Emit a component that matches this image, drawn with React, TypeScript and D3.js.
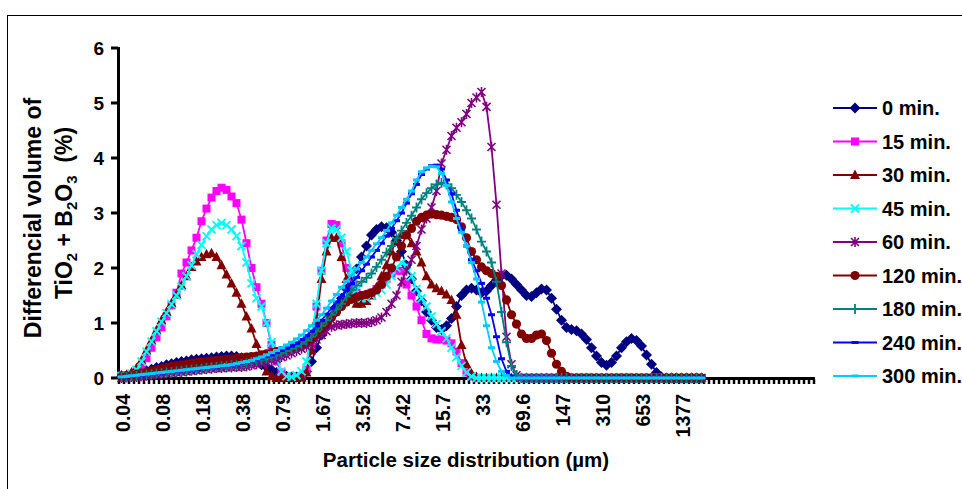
import React from "react";
import * as d3 from "d3";

// ---- data ----
const tickLabels = ["0.04","0.08","0.18","0.38","0.79","1.67","3.52","7.42","15.7","33","69.6","147","310","653","1377"];
const tickEvery = 8;
const categoryCount = 139;
const yTicks = [0, 1, 2, 3, 4, 5, 6];
const seriesNames = ["0 min.","15 min.","30 min.","45 min.","60 min.","120 min.","180 min.","240 min.","300 min."];

const min0 = [0.02,0.03,0.05,0.08,0.1,0.13,0.16,0.19,0.21,0.24,
0.26,0.28,0.3,0.31,0.33,0.34,0.35,0.36,0.37,0.38,
0.39,0.4,0.4,0.39,0.37,0.35,0.32,0.28,0.24,0.2,
0.15,0.1,0.06,0.03,0.02,0.02,0.05,0.12,0.3,0.55,
0.78,0.95,1.12,1.3,1.45,1.62,1.8,1.98,2.2,2.4,
2.6,2.7,2.75,2.73,2.65,2.5,2.3,2.05,1.8,1.58,
1.4,1.2,1.05,0.92,0.88,0.95,1.08,1.3,1.5,1.6,
1.63,1.6,1.55,1.58,1.68,1.78,1.86,1.87,1.8,1.7,
1.6,1.5,1.48,1.55,1.62,1.6,1.45,1.25,1.05,0.92,
0.88,0.86,0.8,0.7,0.55,0.4,0.28,0.23,0.28,0.4,
0.55,0.66,0.72,0.68,0.58,0.42,0.25,0.1,0.02,0,
0,0,0,0,0,0,0];

const min15 = [0.05,0.05,0.07,0.12,0.22,0.36,0.55,0.74,0.92,1.12,
1.32,1.55,1.9,2.1,2.32,2.55,2.85,3.08,3.28,3.4,
3.46,3.42,3.3,3.18,2.88,2.45,2.0,1.65,1.35,1.0,
0.6,0.3,0.1,0.02,0,0,0.02,0.15,0.6,1.3,
1.95,2.5,2.8,2.78,2.45,2.0,1.7,1.55,1.5,1.5,
1.55,1.62,1.7,1.8,1.9,1.95,1.95,1.7,1.5,1.3,
1.05,0.8,0.72,0.7,0.7,0.68,0.63,0.48,0.27,0.1,
0.03,0,0,0,0,0,0,0,0,0,
0,0,0,0,0,0,0,0,0,0,
0,0,0,0,0,0,0,0,0,0,
0,0,0,0,0,0,0,0,0,0,
0,0,0,0,0,0,0];

const min30 = [0.05,0.06,0.1,0.18,0.32,0.5,0.68,0.87,1.05,1.2,
1.36,1.52,1.68,1.85,2.02,2.12,2.2,2.25,2.27,2.2,
2.05,1.88,1.72,1.55,1.35,1.12,0.9,0.62,0.35,0.12,
0.03,0,0,0,0,0,0.01,0.1,0.5,1.05,
1.8,2.3,2.55,2.55,2.2,1.8,1.5,1.35,1.35,1.4,
1.5,1.65,1.85,2.05,2.3,2.5,2.6,2.6,2.45,2.3,
2.1,1.85,1.7,1.63,1.58,1.52,1.42,1.15,0.6,0.25,
0.08,0.02,0,0,0,0,0,0,0,0,
0,0,0,0,0,0,0,0,0,0,
0,0,0,0,0,0,0,0,0,0,
0,0,0,0,0,0,0,0,0,0,
0,0,0,0,0,0,0];

const min45 = [0.03,0.04,0.08,0.15,0.3,0.48,0.66,0.85,1.02,1.18,
1.34,1.5,1.66,1.85,2.05,2.25,2.42,2.58,2.7,2.78,
2.82,2.78,2.7,2.58,2.4,2.1,1.72,1.45,1.3,1.0,
0.65,0.38,0.12,0.03,0.02,0.05,0.12,0.3,0.75,1.35,
1.95,2.45,2.72,2.7,2.55,2.3,1.95,1.6,1.45,1.45,
1.5,1.55,1.6,1.7,1.85,2.0,2.1,2.05,1.85,1.62,
1.45,1.3,1.12,0.98,0.85,0.72,0.55,0.38,0.22,0.1,
0.03,0,0,0,0,0,0,0,0,0,
0,0,0,0,0,0,0,0,0,0,
0,0,0,0,0,0,0,0,0,0,
0,0,0,0,0,0,0,0,0,0,
0,0,0,0,0,0,0];

const min60 = [0,0.01,0.02,0.02,0.03,0.04,0.05,0.06,0.07,0.08,
0.09,0.1,0.11,0.12,0.13,0.14,0.15,0.16,0.17,0.18,
0.18,0.19,0.19,0.2,0.2,0.21,0.23,0.25,0.27,0.29,
0.32,0.35,0.38,0.41,0.45,0.49,0.53,0.57,0.62,0.7,
0.78,0.85,0.93,0.96,0.97,0.98,0.99,1.0,1.0,1.0,
1.02,1.05,1.1,1.2,1.35,1.5,1.75,1.95,2.15,2.4,
2.7,2.9,3.1,3.4,3.9,4.15,4.4,4.55,4.65,4.8,
5.0,5.1,5.2,4.93,4.2,3.15,1.9,0.75,0.25,0.05,
0,0,0,0,0,0,0,0,0,0,
0,0,0,0,0,0,0,0,0,0,
0,0,0,0,0,0,0,0,0,0,
0,0,0,0,0,0,0];

const min120 = [0.02,0.03,0.05,0.07,0.09,0.11,0.13,0.15,0.17,0.19,
0.21,0.22,0.24,0.25,0.27,0.28,0.29,0.3,0.31,0.32,
0.33,0.34,0.35,0.36,0.37,0.38,0.39,0.4,0.42,0.44,
0.46,0.48,0.5,0.52,0.55,0.58,0.62,0.67,0.72,0.8,
0.9,1.0,1.1,1.2,1.3,1.38,1.43,1.47,1.5,1.52,
1.55,1.6,1.7,1.85,2.0,2.2,2.4,2.6,2.72,2.85,
2.92,2.96,2.98,2.97,2.96,2.94,2.92,2.88,2.75,2.55,
2.3,2.15,2.02,1.95,1.9,1.85,1.68,1.42,1.15,0.98,
0.8,0.72,0.72,0.78,0.8,0.68,0.45,0.25,0.12,0.03,
0,0,0,0,0,0,0,0,0,0,
0,0,0,0,0,0,0,0,0,0,
0,0,0,0,0,0,0];

const min180 = [0.02,0.02,0.03,0.04,0.05,0.06,0.07,0.08,0.09,0.1,
0.11,0.12,0.13,0.14,0.15,0.16,0.17,0.18,0.19,0.2,
0.21,0.22,0.23,0.24,0.25,0.27,0.29,0.31,0.33,0.36,
0.39,0.42,0.45,0.49,0.53,0.57,0.62,0.68,0.75,0.85,
0.95,1.05,1.15,1.25,1.35,1.48,1.6,1.68,1.75,1.82,
1.9,2.02,2.15,2.28,2.4,2.54,2.68,2.82,2.95,3.1,
3.25,3.36,3.45,3.52,3.55,3.52,3.45,3.33,3.2,3.05,
2.9,2.7,2.48,2.3,2.1,1.75,1.2,0.65,0.22,0.05,
0,0,0,0,0,0,0,0,0,0,
0,0,0,0,0,0,0,0,0,0,
0,0,0,0,0,0,0,0,0,0,
0,0,0,0,0,0,0];

const min240 = [0.02,0.02,0.03,0.04,0.05,0.06,0.07,0.08,0.09,0.1,
0.11,0.12,0.13,0.14,0.15,0.16,0.17,0.18,0.19,0.2,
0.21,0.22,0.23,0.25,0.27,0.29,0.31,0.33,0.36,0.39,
0.42,0.46,0.5,0.54,0.58,0.63,0.7,0.77,0.85,0.95,
1.05,1.16,1.27,1.38,1.5,1.61,1.72,1.83,1.95,2.07,
2.2,2.32,2.45,2.58,2.72,2.86,3.0,3.18,3.35,3.52,
3.7,3.8,3.86,3.87,3.8,3.6,3.35,3.05,2.7,2.4,
2.15,1.95,1.72,1.45,1.15,0.75,0.35,0.12,0.03,0,
0,0,0,0,0,0,0,0,0,0,
0,0,0,0,0,0,0,0,0,0,
0,0,0,0,0,0,0,0,0,0,
0,0,0,0,0,0,0];

const min300 = [0.02,0.03,0.04,0.05,0.06,0.07,0.08,0.09,0.1,0.11,
0.12,0.13,0.14,0.15,0.16,0.17,0.18,0.19,0.2,0.21,
0.22,0.23,0.24,0.26,0.28,0.3,0.32,0.35,0.38,0.42,
0.46,0.5,0.55,0.6,0.65,0.71,0.78,0.86,0.95,1.05,
1.15,1.27,1.4,1.52,1.65,1.76,1.87,1.98,2.1,2.2,
2.32,2.44,2.55,2.68,2.82,2.96,3.1,3.25,3.4,3.6,
3.75,3.82,3.85,3.84,3.72,3.5,3.2,2.9,2.65,2.4,
2.1,1.8,1.38,0.95,0.55,0.3,0.12,0.04,0,0,
0,0,0,0,0,0,0,0,0,0,
0,0,0,0,0,0,0,0,0,0,
0,0,0,0,0,0,0,0,0,0,
0,0,0,0,0,0,0];

const seriesValues = [min0, min15, min30, min45, min60, min120, min180, min240, min300];

// ---- styles ----
const colors = ["#000080", "#FF00FF", "#800000", "#00FFFF", "#800080", "#800000", "#008080", "#0000FF", "#00CCFF"];
const markers = ["diamond", "square", "triangle", "x", "asterisk", "circle", "plus", "dash", "dash"];

const FONT = "'Liberation Sans', Arial, Helvetica, sans-serif";

function Marker({ type, color, cx, cy }: { type: string; color: string; cx: number; cy: number }) {
  const t = `translate(${cx},${cy})`;
  switch (type) {
    case "diamond":
      return <path transform={t} d="M0,-5.5L5.5,0L0,5.5L-5.5,0Z" fill={color} />;
    case "square":
      return <rect x={cx - 4} y={cy - 4} width={8} height={8} fill={color} />;
    case "triangle":
      return <path transform={t} d="M0,-5.5L5,4L-5,4Z" fill={color} />;
    case "x":
      return <path transform={t} d="M-4,-4L4,4M-4,4L4,-4" stroke={color} strokeWidth={1.8} fill="none" />;
    case "asterisk":
      return <path transform={t} d="M-4,-4L4,4M-4,4L4,-4M0,-5L0,5" stroke={color} strokeWidth={1.6} fill="none" />;
    case "circle":
      return <circle cx={cx} cy={cy} r={4.6} fill={color} />;
    case "plus":
      return <path transform={t} d="M-4.5,0L4.5,0M0,-5L0,5" stroke={color} strokeWidth={1.8} fill="none" />;
    case "dash":
      return <rect x={cx - 3.5} y={cy - 1.5} width={7} height={3} fill={color} />;
    default:
      return null;
  }
}

export default function App() {
  const W = 962, H = 489;
  const x = d3.scaleBand<number>().domain(d3.range(categoryCount)).range([119, 814]).paddingInner(0).paddingOuter(0);
  const cx = (i: number) => (x(i) as number) + x.bandwidth() / 2;
  const y = d3.scaleLinear().domain([0, 6]).range([378, 48]);
  const line = d3.line<number>().x((_, i) => cx(i)).y((d) => y(d));

  const legendTop = 108, legendStep = 33.5;

  return (
    <svg width={W} height={H} style={{ position: "absolute", left: 0, top: 0, background: "#fff" }} fontFamily={FONT}>
      <rect x={0} y={0} width={W} height={H} fill="#fff" />
      <rect x={7.5} y={15.5} width={1100} height={600} fill="none" stroke="#000" strokeWidth={1} />

      {/* y axis */}
      <line x1={118.5} x2={118.5} y1={y(6) - 1} y2={y(0) + 2} stroke="#000" strokeWidth={3} />
      {yTicks.map((t) => (
        <g key={t}>
          <line x1={111} x2={118} y1={y(t)} y2={y(t)} stroke="#000" strokeWidth={3} />
          <text x={104} y={y(t)} dy="0.36em" textAnchor="end" fontSize={19} fontWeight="bold">{t}</text>
        </g>
      ))}

      {/* x axis */}
      <line x1={117} x2={815} y1={378.5} y2={378.5} stroke="#000" strokeWidth={3} />
      {d3.range(categoryCount + 1).map((k) => {
        const xx = k < categoryCount ? (x(k) as number) : 814;
        return <line key={k} x1={xx} x2={xx} y1={379} y2={384} stroke="#000" strokeWidth={2.5} />;
      })}
      {tickLabels.map((lab, j) => {
        const xc = cx(j * tickEvery) + 1.5;
        return (
          <text key={lab} transform={`translate(${xc},394) rotate(-90)`} dy="0.36em" textAnchor="end" fontSize={19.5} fontWeight="bold">{lab}</text>
        );
      })}

      {/* series */}
      {seriesValues.map((vals, s) => (
        <g key={s}>
          <path d={line(vals) || ""} fill="none" stroke={colors[s]} strokeWidth={1.8} />
          {vals.map((v, i) => (
            <Marker key={i} type={markers[s]} color={colors[s]} cx={cx(i)} cy={y(v)} />
          ))}
        </g>
      ))}

      {/* axis titles */}
      <text transform="translate(41,218) rotate(-90)" textAnchor="middle" fontSize={23} fontWeight="bold">Differencial volume of</text>
      <text transform="translate(72,213) rotate(-90)" textAnchor="middle" fontSize={23} fontWeight="bold">
        TiO<tspan fontSize={15} dy={5}>2</tspan><tspan dy={-5}> + B</tspan><tspan fontSize={15} dy={5}>2</tspan><tspan dy={-5}>O</tspan><tspan fontSize={15} dy={5}>3</tspan><tspan dy={-5}>{"\u00a0 (%)"}</tspan>
      </text>
      <text x={466} y={467} textAnchor="middle" fontSize={20.5} fontWeight="bold">Particle size distribution (µm)</text>

      {/* legend */}
      {seriesNames.map((name, s) => {
        const ly = legendTop + s * legendStep;
        return (
          <g key={name}>
            <line x1={833} x2={877} y1={ly} y2={ly} stroke={colors[s]} strokeWidth={1.8} />
            <Marker type={markers[s]} color={colors[s]} cx={855} cy={ly} />
            <text x={882} y={ly} dy="0.36em" fontSize={20} fontWeight="bold">{name}</text>
          </g>
        );
      })}
    </svg>
  );
}
